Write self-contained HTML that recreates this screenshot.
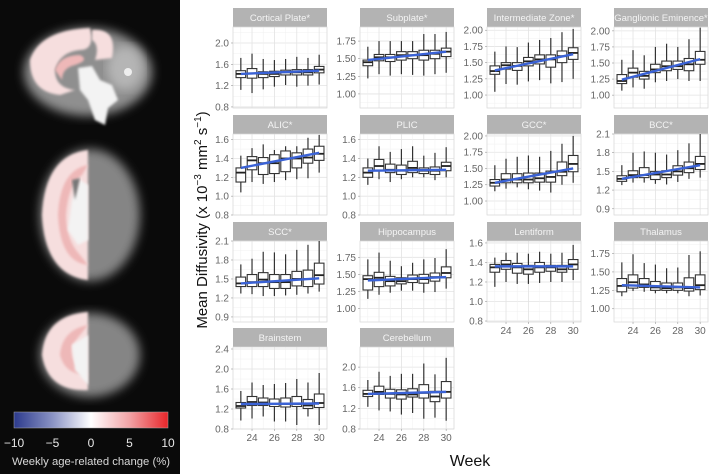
<!DOCTYPE html>
<html><head><meta charset="utf-8"><style>
html,body{margin:0;padding:0;background:#fff;}
svg{display:block;font-family:"Liberation Sans",sans-serif;}
</style></head><body>
<svg id="fig" width="709" height="474" viewBox="0 0 709 474" xmlns="http://www.w3.org/2000/svg">
<defs>
<linearGradient id="cb" x1="0" x2="1" y1="0" y2="0">
<stop offset="0" stop-color="#2c3a8c"/><stop offset="0.25" stop-color="#8a93c4"/><stop offset="0.5" stop-color="#ffffff"/><stop offset="0.75" stop-color="#f2a3a6"/><stop offset="1" stop-color="#e8262a"/>
</linearGradient>
<filter id="bl"><feGaussianBlur stdDeviation="5"/></filter>
<filter id="bl2"><feGaussianBlur stdDeviation="1.2"/></filter>
</defs>
<g>
<rect x="0" y="0" width="180" height="474" fill="#0a0a0a"/>
<g>
<ellipse cx="88" cy="72" rx="64" ry="44" fill="#8f8f8f" filter="url(#bl)"/>
<ellipse cx="125" cy="68" rx="18" ry="22" fill="#b5b5b5" filter="url(#bl)"/>
<path d="M30 60 Q40 30 90 28 Q95 50 80 50 Q60 52 55 70 Q55 88 75 90 L60 95 Q30 92 30 60Z" fill="#f6dede" filter="url(#bl2)"/>
<path d="M55 70 Q60 55 80 55 Q90 60 75 65 Q62 68 62 80Z" fill="#eeb8b8" filter="url(#bl2)"/>
<path d="M78 68 L92 66 L100 80 L112 85 L118 100 L108 108 L105 125 L95 120 L88 100 L80 90Z" fill="#f3f3f3" filter="url(#bl2)"/>
<path d="M92 30 Q118 28 112 58 L95 60 Q100 45 92 40Z" fill="#f6dede" filter="url(#bl2)"/>
<circle cx="128" cy="72" r="4" fill="#eee"/>
</g>
<g>
<ellipse cx="90" cy="215" rx="50" ry="66" fill="#858585" filter="url(#bl)"/>
<path d="M88 150 Q45 155 42 215 Q45 275 88 280Z" fill="#f6dede" filter="url(#bl2)"/>
<path d="M88 165 Q60 170 58 215 Q60 262 88 265 L80 255 Q66 240 66 215 Q68 185 82 175Z" fill="#eeb8b8" filter="url(#bl2)"/>
<path d="M80 180 L72 200 L68 230 L78 245 L88 240 L88 185Z" fill="#f3f3f3" filter="url(#bl2)"/>
<path d="M72 180 L80 178 L75 200Z" fill="#777" filter="url(#bl2)"/>
</g>
<g>
<ellipse cx="90" cy="355" rx="50" ry="42" fill="#858585" filter="url(#bl)"/>
<path d="M88 312 Q45 315 42 355 Q48 392 88 390Z" fill="#f6dede" filter="url(#bl2)"/>
<path d="M88 325 Q62 330 60 355 Q65 375 88 375 L80 368 Q70 360 72 345Z" fill="#eeb8b8" filter="url(#bl2)"/>
<path d="M88 335 L72 345 L75 370 L88 385Z" fill="#f3f3f3" filter="url(#bl2)"/>
</g>
<rect x="14" y="412" width="154" height="16" fill="url(#cb)" stroke="#aaa" stroke-width="0.5"/>
<g fill="#e8e8e8" font-size="12" text-anchor="middle">
<text x="14" y="447">−10</text><text x="52.5" y="447">−5</text><text x="91" y="447">0</text><text x="129.5" y="447">5</text><text x="168" y="447">10</text>
</g>
<text x="91" y="465" fill="#d8d8d8" font-size="11.3" text-anchor="middle">Weekly age-related change (%)</text>
</g>
<text transform="translate(207,220) rotate(-90)" font-size="15" fill="#111" text-anchor="middle">Mean Diffusivity (x 10<tspan font-size="10" dy="-6">−3</tspan><tspan dy="6"> mm</tspan><tspan font-size="10" dy="-6">2</tspan><tspan dy="6"> s</tspan><tspan font-size="10" dy="-6">−1</tspan><tspan dy="6">)</tspan></text>
<text x="470" y="466" font-size="16" fill="#111" text-anchor="middle">Week</text>
<g id="panels"></g>
</svg>
<script>
const weeks = [23,24,25,26,27,28,29,30];
const xTicks = [24,26,28,30];
const panelNames = ["Cortical Plate*","Subplate*","Intermediate Zone*","Ganglionic Eminence*","ALIC*","PLIC","GCC*","BCC*","SCC*","Hippocampus","Lentiform","Thalamus","Brainstem","Cerebellum"];
const yDomains = [[0.78,2.3],[0.8,1.95],[0.8,2.05],[0.8,2.06],[0.8,1.66],[0.8,1.66],[0.785,2.03],[0.8,2.1],[0.82,2.1],[0.8,1.99],[0.79,1.62],[0.82,1.92],[0.8,2.44],[0.8,2.39]];
const yTickLabels = [["0.8","1.2","1.6","2.0"],["1.00","1.25","1.50","1.75"],["1.00","1.25","1.50","1.75","2.00"],["1.00","1.25","1.50","1.75","2.00"],["0.8","1.0","1.2","1.4","1.6"],["0.8","1.0","1.2","1.4","1.6"],["1.00","1.25","1.50","1.75","2.00"],["0.9","1.2","1.5","1.8","2.1"],["0.9","1.2","1.5","1.8","2.1"],["1.00","1.25","1.50","1.75"],["0.8","1.0","1.2","1.4","1.6"],["1.00","1.25","1.50","1.75"],["0.8","1.2","1.6","2.0","2.4"],["0.8","1.2","1.6","2.0"]];
// per panel: [lo,q1,med,q3,hi] per week
const boxCorticalPlate = [[1.12,1.35,1.42,1.48,1.72],[1.06,1.34,1.43,1.52,1.80],[1.13,1.35,1.42,1.46,1.70],[1.18,1.37,1.42,1.47,1.68],[1.21,1.40,1.45,1.49,1.70],[1.18,1.40,1.45,1.50,1.74],[1.20,1.40,1.45,1.50,1.72],[1.22,1.44,1.50,1.56,1.78]];
const boxSubplate = [[1.22,1.40,1.45,1.48,1.67],[1.28,1.47,1.52,1.56,1.75],[1.26,1.46,1.52,1.56,1.75],[1.28,1.48,1.55,1.60,1.75],[1.27,1.50,1.55,1.60,1.75],[1.26,1.48,1.55,1.62,1.85],[1.28,1.50,1.57,1.62,1.85],[1.30,1.53,1.60,1.65,1.88]];
const boxIZ = [[1.05,1.32,1.37,1.45,1.67],[1.17,1.40,1.46,1.50,1.75],[1.16,1.38,1.45,1.50,1.74],[1.21,1.45,1.52,1.58,1.81],[1.23,1.48,1.55,1.62,1.85],[1.18,1.43,1.55,1.62,1.88],[1.20,1.50,1.60,1.68,1.97],[1.25,1.55,1.65,1.73,2.02]];
const boxGE = [[1.07,1.18,1.22,1.32,1.55],[1.12,1.28,1.35,1.42,1.70],[1.10,1.25,1.30,1.37,1.62],[1.20,1.35,1.40,1.48,1.75],[1.22,1.38,1.45,1.53,1.80],[1.25,1.40,1.45,1.53,1.75],[1.22,1.38,1.48,1.57,1.87],[1.22,1.48,1.55,1.68,2.05]];
const boxALIC = [[1.04,1.15,1.25,1.30,1.43],[1.15,1.28,1.38,1.42,1.51],[1.13,1.23,1.35,1.41,1.55],[1.15,1.24,1.35,1.44,1.49],[1.17,1.26,1.40,1.48,1.53],[1.18,1.30,1.40,1.46,1.53],[1.19,1.35,1.41,1.50,1.62],[1.25,1.38,1.45,1.53,1.65]];
const boxPLIC = [[1.12,1.20,1.25,1.30,1.40],[1.18,1.27,1.32,1.39,1.53],[1.15,1.25,1.28,1.34,1.47],[1.18,1.23,1.27,1.33,1.50],[1.20,1.25,1.30,1.37,1.53],[1.20,1.24,1.27,1.30,1.43],[1.17,1.23,1.27,1.31,1.46],[1.20,1.27,1.32,1.36,1.52]];
const boxGCC = [[1.15,1.23,1.28,1.33,1.55],[1.19,1.28,1.33,1.42,1.65],[1.21,1.28,1.33,1.42,1.68],[1.18,1.28,1.33,1.43,1.70],[1.16,1.29,1.35,1.43,1.68],[1.13,1.29,1.37,1.46,1.77],[1.25,1.39,1.45,1.60,1.88],[1.28,1.45,1.57,1.70,2.00]];
const boxBCC = [[1.28,1.34,1.38,1.43,1.60],[1.32,1.40,1.44,1.51,1.80],[1.32,1.40,1.44,1.56,1.82],[1.30,1.37,1.45,1.50,1.80],[1.29,1.40,1.45,1.51,1.77],[1.33,1.44,1.50,1.59,1.84],[1.38,1.48,1.55,1.65,1.95],[1.40,1.53,1.62,1.74,2.10]];
const boxSCC = [[1.27,1.38,1.43,1.53,1.73],[1.26,1.38,1.45,1.57,1.82],[1.23,1.38,1.49,1.60,1.93],[1.23,1.35,1.45,1.57,1.92],[1.24,1.35,1.45,1.57,1.89],[1.25,1.39,1.50,1.62,1.96],[1.27,1.38,1.50,1.64,2.04],[1.30,1.42,1.56,1.75,2.10]];
const boxHippocampus = [[1.14,1.27,1.43,1.48,1.72],[1.20,1.32,1.45,1.53,1.82],[1.23,1.33,1.40,1.47,1.70],[1.26,1.36,1.40,1.45,1.62],[1.26,1.38,1.43,1.49,1.67],[1.23,1.37,1.43,1.50,1.72],[1.24,1.40,1.46,1.52,1.74],[1.29,1.45,1.52,1.61,1.87]];
const boxLentiform = [[1.15,1.30,1.35,1.38,1.45],[1.20,1.33,1.38,1.42,1.50],[1.18,1.29,1.35,1.39,1.50],[1.18,1.28,1.33,1.37,1.49],[1.19,1.30,1.35,1.40,1.51],[1.20,1.31,1.35,1.37,1.49],[1.20,1.30,1.33,1.37,1.50],[1.22,1.33,1.38,1.43,1.58]];
const boxThalamus = [[1.17,1.23,1.31,1.41,1.63],[1.24,1.28,1.36,1.46,1.74],[1.23,1.29,1.33,1.41,1.62],[1.21,1.25,1.29,1.37,1.60],[1.21,1.25,1.28,1.35,1.55],[1.21,1.25,1.29,1.35,1.56],[1.17,1.24,1.28,1.42,1.73],[1.18,1.26,1.32,1.46,1.78]];
const boxBrainstem = [[0.97,1.22,1.26,1.33,1.56],[1.01,1.27,1.34,1.45,1.73],[1.05,1.27,1.33,1.42,1.68],[0.95,1.25,1.30,1.40,1.70],[0.95,1.24,1.30,1.42,1.72],[0.88,1.25,1.30,1.45,1.80],[1.05,1.21,1.27,1.39,1.73],[0.88,1.23,1.32,1.50,1.92]];
const boxCerebellum = [[1.23,1.43,1.48,1.55,1.75],[1.16,1.47,1.52,1.63,1.91],[1.14,1.40,1.48,1.57,1.83],[1.08,1.38,1.47,1.56,1.87],[1.11,1.42,1.47,1.58,1.87],[1.00,1.40,1.50,1.66,2.07],[1.02,1.33,1.43,1.53,1.86],[0.96,1.40,1.52,1.72,2.18]];
const trendStart = [1.42,1.48,1.38,1.24,1.30,1.27,1.28,1.38,1.43,1.41,1.36,1.32,1.30,1.48];
const trendEnd = [1.48,1.60,1.63,1.56,1.46,1.28,1.50,1.60,1.51,1.46,1.36,1.29,1.31,1.52];

const boxes=[boxCorticalPlate,boxSubplate,boxIZ,boxGE,boxALIC,boxPLIC,boxGCC,boxBCC,boxSCC,boxHippocampus,boxLentiform,boxThalamus,boxBrainstem,boxCerebellum];
const NS='http://www.w3.org/2000/svg';
const root=document.getElementById('panels');
const colX=[233,360,487,614], rowY=[8,115,222,328], PW=94, SH=19;
function mk(tag,attrs,parent){const e=document.createElementNS(NS,tag);for(const k in attrs)e.setAttribute(k,attrs[k]);parent.appendChild(e);return e;}
panelNames.forEach((name,i)=>{
  const c=i%4,r=Math.floor(i/4);
  const L=colX[c],T=rowY[r],PT=T+SH,PH=(r===3?82:81),PB=PT+PH;
  const [y0,y1]=yDomains[i];
  const X=w=>L+(w-22.3)*(PW/8.4);
  const Y=v=>PB-(v-y0)/(y1-y0)*PH;
  const g=mk('g',{},root);
  
  
  const st=mk('rect',{x:L,y:T,width:PW,height:SH,fill:'#b3b3b3'},g);
  
  
  const tt=mk('text',{x:L+PW/2,y:T+13,'font-size':9.5,fill:'#f4f4f4','text-anchor':'middle'},g);
  tt.textContent=name;
  
  
  mk('rect',{x:L,y:PT,width:PW,height:PH,fill:'#fff'},g);
  const tv=yTickLabels[i].map(Number);
  const step=tv[1]-tv[0];
  for(let v=tv[0]-step/2;v<=y1;v+=step/2){ if(v<y0)continue;
    const major=tv.some(t=>Math.abs(t-v)<1e-6);
    mk('line',{x1:L,x2:L+PW,y1:Y(v),y2:Y(v),stroke:major?'#e3e3e3':'#f0f0f0','stroke-width':major?0.8:0.5},g);}
  weeks.forEach(w=>{const major=xTicks.includes(w);
    mk('line',{x1:X(w),x2:X(w),y1:PT,y2:PB,stroke:major?'#e3e3e3':'#f0f0f0','stroke-width':major?0.8:0.5},g);});
  mk('rect',{x:L,y:PT,width:PW,height:PH,fill:'none',stroke:'#d6d6d6','stroke-width':0.7},g);
  yTickLabels[i].forEach(lab=>{const v=Number(lab);
    mk('line',{x1:L-2,x2:L,y1:Y(v),y2:Y(v),stroke:'#999','stroke-width':0.6},g);
    const t=mk('text',{x:L-4,y:Y(v)+3.5,'font-size':10,fill:'#666','text-anchor':'end'},g);t.textContent=lab;
    
    });
  const bottom = (r===3)||(r===2&&c>=2);
  if(bottom){xTicks.forEach(w=>{
    mk('line',{x1:X(w),x2:X(w),y1:PB,y2:PB+2,stroke:'#999','stroke-width':0.6},g);
    const t=mk('text',{x:X(w),y:PB+12,'font-size':10,fill:'#666','text-anchor':'middle'},g);t.textContent=w;
    
    });}
  boxes[i].forEach((b,k)=>{const x=X(weeks[k]),hw=4.8;
    const bg=mk('g',{},g);
    
    
    mk('line',{x1:x,x2:x,y1:Y(b[0]),y2:Y(b[1]),stroke:'#333','stroke-width':1.2},bg);
    mk('line',{x1:x,x2:x,y1:Y(b[3]),y2:Y(b[4]),stroke:'#333','stroke-width':1.2},bg);
    mk('rect',{x:x-hw,y:Y(b[3]),width:2*hw,height:Math.max(0.5,Y(b[1])-Y(b[3])),fill:'#fff',stroke:'#333','stroke-width':1.1},bg);
    mk('line',{x1:x-hw,x2:x+hw,y1:Y(b[2]),y2:Y(b[2]),stroke:'#222','stroke-width':1.8},bg);});
  const tl=mk('line',{x1:X(23),x2:X(30),y1:Y(trendStart[i]),y2:Y(trendEnd[i]),stroke:'#3a62d6','stroke-width':2.4},g);
  
  
});
</script>
</body></html>
